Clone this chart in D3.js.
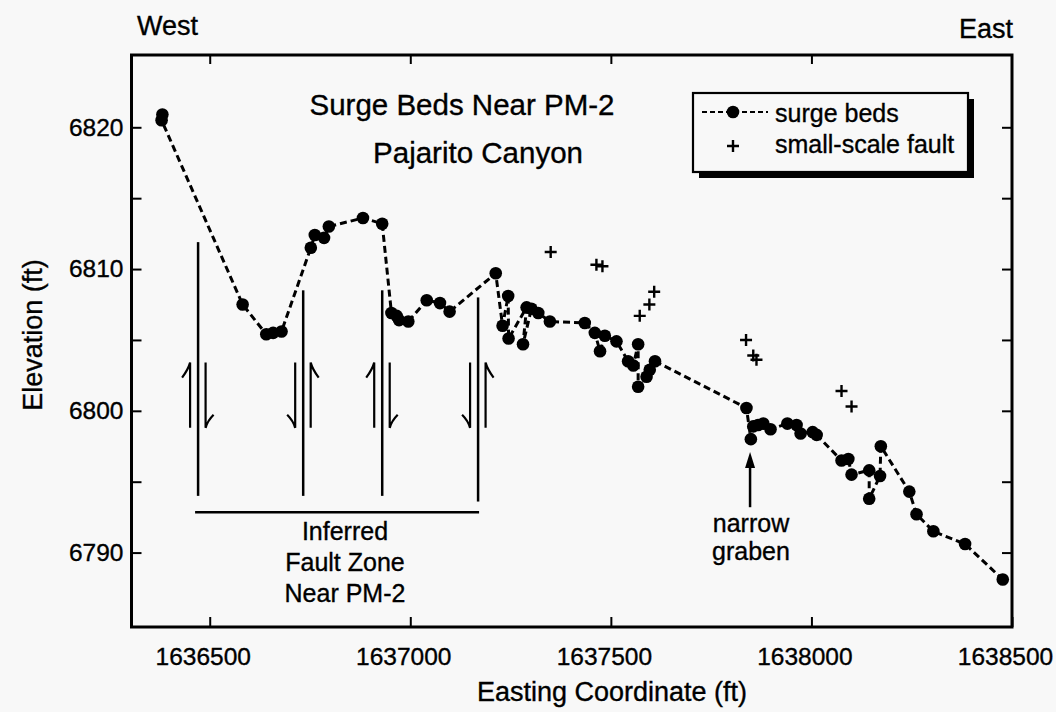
<!DOCTYPE html>
<html>
<head>
<meta charset="utf-8">
<script src="https://cdn.jsdelivr.net/npm/d3@7"></script>
<style>
  body { margin: 0; background: #f8f8f8; }
  svg { display: block; font-family: "Liberation Sans", Arial, Helvetica, sans-serif; }
  text { fill: #000; stroke: #000; stroke-width: 0.35px; }
</style>
</head>
<body>
<svg id="chart"></svg>
<script>
// Surge bed points, in the order the dashed line joins them
const bedEasting = [
  1636382, 1636380, 1636582, 1636641, 1636658, 1636679, 1636752, 1636762,
  1636785, 1636797, 1636882, 1636930, 1636953, 1636966, 1636972, 1636995,
  1637041, 1637074, 1637098, 1637213, 1637230, 1637244, 1637245, 1637290,
  1637281, 1637302, 1637319, 1637348, 1637435, 1637460, 1637473, 1637485,
  1637514, 1637543, 1637556, 1637568, 1637568, 1637589, 1637597, 1637610,
  1637838, 1637849, 1637855, 1637867, 1637880, 1637898, 1637940, 1637963,
  1637973, 1638003, 1638013, 1638075, 1638092, 1638100, 1638144, 1638144,
  1638171, 1638173, 1638244, 1638262, 1638304, 1638383, 1638477
];
const bedElevation = [
  6820.9, 6820.5, 6807.5, 6805.4, 6805.5, 6805.6, 6811.5, 6812.4,
  6812.2, 6813.0, 6813.6, 6813.2, 6806.9, 6806.7, 6806.4, 6806.3,
  6807.8, 6807.6, 6807.0, 6809.7, 6806.0, 6808.1, 6805.1, 6807.3,
  6804.7, 6807.2, 6806.9, 6806.3, 6806.2, 6805.5, 6804.2, 6805.3,
  6804.9, 6803.5, 6803.2, 6804.7, 6801.7, 6802.4, 6802.9, 6803.5,
  6800.2, 6798.0, 6798.9, 6799.0, 6799.1, 6798.7, 6799.1, 6799.0,
  6798.4, 6798.5, 6798.3, 6796.5, 6796.6, 6795.5, 6795.8, 6793.8,
  6795.4, 6797.5, 6794.3, 6792.7, 6791.5, 6790.6, 6788.1
];

// small-scale faults (crosses)
const faultEasting = [1637350, 1637464, 1637479, 1637572, 1637596, 1637608, 1637837, 1637855, 1637863, 1638075, 1638100];
const faultElevation = [6811.2, 6810.3, 6810.2, 6806.7, 6807.5, 6808.4, 6805.0, 6803.9, 6803.6, 6801.4, 6800.3];

// inferred fault zone
const zoneEasting = [1636471, 1636733, 1636930, 1637169];
const zoneTop = [6811.9, 6808.5, 6808.5, 6808.0];
const zoneBottom = [6794.0, 6794.0, 6794.0, 6793.6];
const zoneWestUp = [true, false, true, false];
const zoneBase = 6792.85;
const slipTop = 6803.4, slipBottom = 6798.8;

// narrow graben arrow
const grabenEasting = 1637847;
const grabenTip = 6797.1, grabenTail = 6793.2;

const xTicks = [1636500, 1637000, 1637500, 1638000, 1638500];
const yTicks = [6790, 6795, 6800, 6805, 6810, 6815, 6820];

const width = 1056, height = 712;
const svg = d3.select("#chart").attr("width", width).attr("height", height);

const x = d3.scaleLinear().domain([1636305, 1638500]).range([131.5, 1012]);
const y = d3.scaleLinear().domain([6784.75, 6825.1]).range([627, 55]);

const beds = bedEasting.map((e, i) => ({ e: e, el: bedElevation[i] }));
const faults = faultEasting.map((e, i) => ({ e: e, el: faultElevation[i] }));

// axes, ticks pointing inward
const axisL = svg.append("g").attr("transform", `translate(${x.range()[0]},0)`)
  .call(d3.axisLeft(y).tickValues(yTicks).tickSize(-10).tickPadding(8)
    .tickFormat(d => d % 10 === 0 ? d : ""));
const axisR = svg.append("g").attr("transform", `translate(${x.range()[1]},0)`)
  .call(d3.axisRight(y).tickValues(yTicks).tickSize(-10).tickFormat(""));
const axisB = svg.append("g").attr("transform", `translate(0,${y.range()[0]})`)
  .call(d3.axisBottom(x).tickValues(xTicks).tickSize(-10).tickPadding(21).tickFormat(d3.format("d")));
const axisT = svg.append("g").attr("transform", `translate(0,${y.range()[1]})`)
  .call(d3.axisTop(x).tickValues(xTicks.slice(0, 4)).tickSize(-9).tickFormat(""));

[axisL, axisR, axisB, axisT].forEach(g => {
  g.select(".domain").remove();
  g.selectAll(".tick line").attr("stroke", "#000").attr("stroke-width", 2);
  g.selectAll(".tick text").style("font-size", "24.5px").attr("fill", "#000");
});
axisB.selectAll(".tick text").attr("dx", -7);

// frame
svg.append("rect")
  .attr("x", x.range()[0]).attr("y", y.range()[1])
  .attr("width", x.range()[1] - x.range()[0])
  .attr("height", y.range()[0] - y.range()[1])
  .attr("fill", "none").attr("stroke", "#000").attr("stroke-width", 3);

// axis titles
svg.append("text").attr("x", 612).attr("y", 701).attr("text-anchor", "middle")
  .style("font-size", "27px").text("Easting Coordinate (ft)");
svg.append("text").attr("transform", "translate(41.5,335) rotate(-90)")
  .attr("text-anchor", "middle").style("font-size", "27px").text("Elevation (ft)");
svg.append("text").attr("x", 137).attr("y", 35).style("font-size", "27px").text("West");
svg.append("text").attr("x", 1013).attr("y", 38).attr("text-anchor", "end")
  .style("font-size", "27px").text("East");

// chart titles
svg.append("text").attr("x", 462).attr("y", 115).attr("text-anchor", "middle")
  .style("font-size", "29.5px").text("Surge Beds Near PM-2");
svg.append("text").attr("x", 478).attr("y", 163).attr("text-anchor", "middle")
  .style("font-size", "29.5px").text("Pajarito Canyon");

// inferred fault zone
const zone = svg.append("g").attr("stroke", "#000").attr("fill", "none");
zoneEasting.forEach((e, i) => {
  const fx = x(e);
  zone.append("line").attr("x1", fx).attr("x2", fx)
    .attr("y1", y(zoneTop[i])).attr("y2", y(zoneBottom[i])).attr("stroke-width", 2.5);
  const t = y(slipTop), b = y(slipBottom);
  const lx = fx - 8, rx = fx + 7.5;
  if (zoneWestUp[i]) {
    zone.append("path").attr("stroke-width", 2.2)
      .attr("d", `M${lx},${b}L${lx},${t}Q${lx - 2},${t + 7} ${lx - 8},${t + 15}`);
    zone.append("path").attr("stroke-width", 2.2)
      .attr("d", `M${rx},${t}L${rx},${b}Q${rx + 2},${b - 7} ${rx + 8},${b - 13}`);
  } else {
    zone.append("path").attr("stroke-width", 2.2)
      .attr("d", `M${lx},${t}L${lx},${b}Q${lx - 2},${b - 7} ${lx - 8},${b - 13}`);
    zone.append("path").attr("stroke-width", 2.2)
      .attr("d", `M${rx},${b}L${rx},${t}Q${rx + 2},${t + 7} ${rx + 8},${t + 15}`);
  }
});
zone.append("line")
  .attr("x1", x(zoneEasting[0]) - 3).attr("x2", x(zoneEasting[3]) + 1)
  .attr("y1", y(zoneBase)).attr("y2", y(zoneBase)).attr("stroke-width", 2.5);

const zoneText = svg.append("text").attr("text-anchor", "middle").style("font-size", "25px");
["Inferred", "Fault Zone", "Near PM-2"].forEach((s, i) => {
  zoneText.append("tspan").attr("x", 345).attr("y", 540 + i * 31).text(s);
});

// graben arrow
const gx = x(grabenEasting);
svg.append("line").attr("x1", gx).attr("x2", gx)
  .attr("y1", y(grabenTail)).attr("y2", y(grabenTip) + 10)
  .attr("stroke", "#000").attr("stroke-width", 2.5);
svg.append("path")
  .attr("d", `M${gx},${y(grabenTip)}L${gx - 5},${y(grabenTip) + 16}L${gx + 5},${y(grabenTip) + 16}Z`)
  .attr("fill", "#000");
const grabenText = svg.append("text").attr("text-anchor", "middle").style("font-size", "25px");
grabenText.append("tspan").attr("x", 751).attr("y", 532).text("narrow");
grabenText.append("tspan").attr("x", 751).attr("y", 560).text("graben");

// surge beds
const line = d3.line().x(d => x(d.e)).y(d => y(d.el));
svg.append("path").datum(beds)
  .attr("d", line).attr("fill", "none").attr("stroke", "#000")
  .attr("stroke-width", 3).attr("stroke-dasharray", "7,4");
svg.append("g").selectAll("circle").data(beds).enter().append("circle")
  .attr("cx", d => x(d.e)).attr("cy", d => y(d.el)).attr("r", 6.3).attr("fill", "#000");

// small-scale faults
svg.append("g").selectAll("path").data(faults).enter().append("path")
  .attr("transform", d => `translate(${x(d.e)},${y(d.el)})`)
  .attr("d", "M-6,0H6M0,-6V6").attr("stroke", "#000").attr("stroke-width", 2.4);

// legend
const legend = svg.append("g");
legend.append("rect").attr("x", 699).attr("y", 99).attr("width", 275).attr("height", 79).attr("fill", "#000");
legend.append("rect").attr("x", 693).attr("y", 93).attr("width", 275).attr("height", 79)
  .attr("fill", "#f8f8f8").attr("stroke", "#000").attr("stroke-width", 2.2);
legend.append("line").attr("x1", 702).attr("x2", 768).attr("y1", 112).attr("y2", 112)
  .attr("stroke", "#000").attr("stroke-width", 2.2).attr("stroke-dasharray", "5,3");
legend.append("circle").attr("cx", 733).attr("cy", 112).attr("r", 6.3).attr("fill", "#000");
legend.append("path").attr("transform", "translate(733,146)")
  .attr("d", "M-6,0H6M0,-6V6").attr("stroke", "#000").attr("stroke-width", 2.4);
legend.append("text").attr("x", 775).attr("y", 122).style("font-size", "25px").text("surge beds");
legend.append("text").attr("x", 775).attr("y", 153).style("font-size", "25px").text("small-scale fault");
</script>
</body>
</html>
